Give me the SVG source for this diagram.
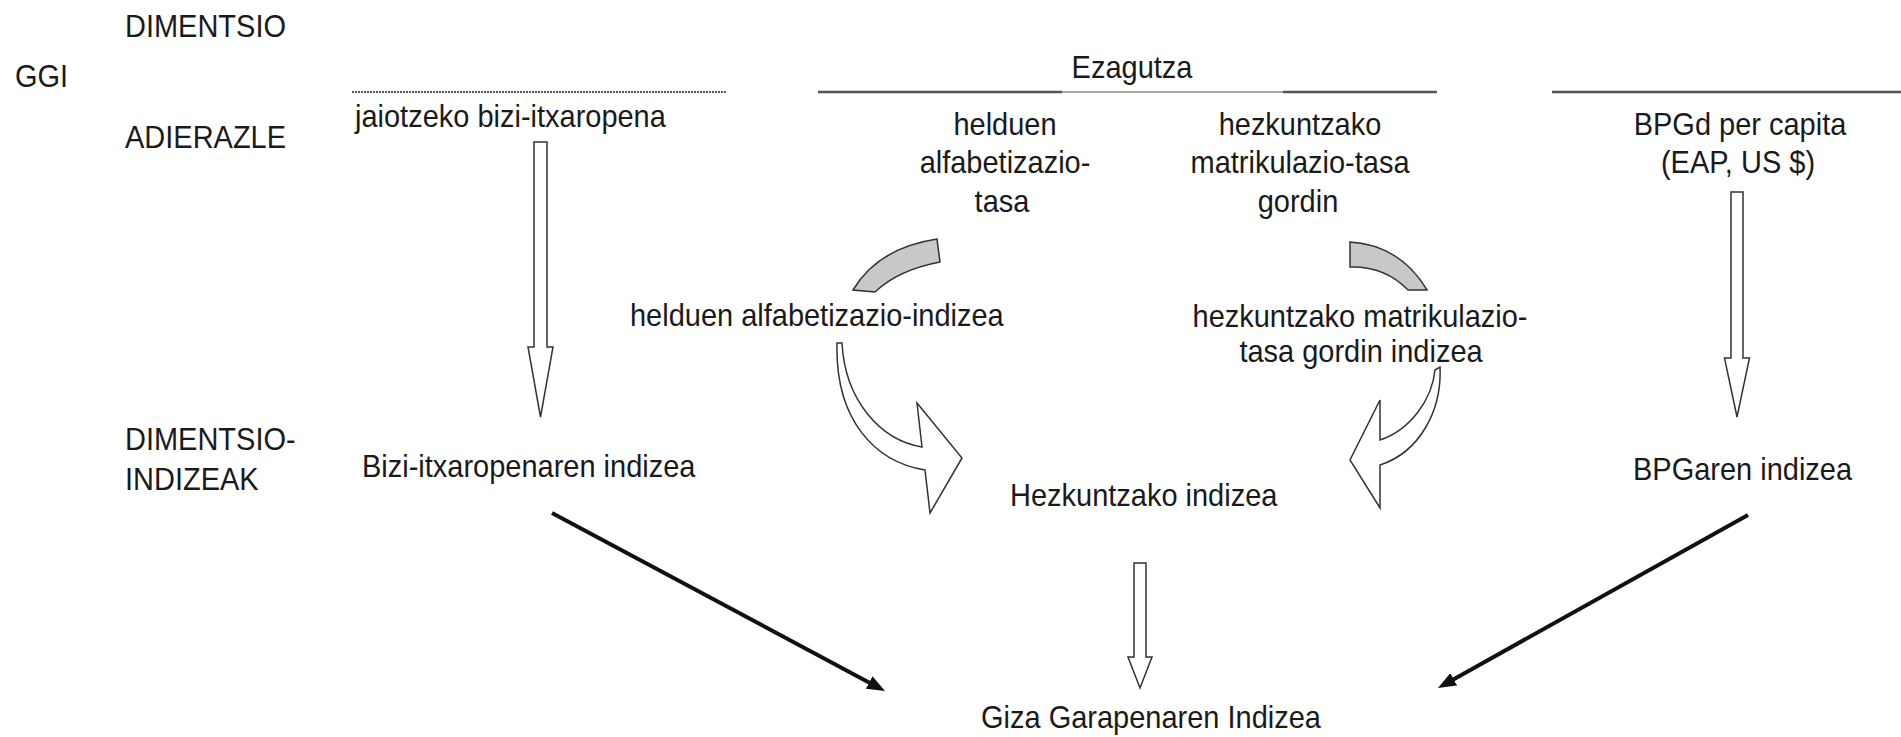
<svg xmlns="http://www.w3.org/2000/svg" width="1901" height="737" viewBox="0 0 1901 737">
<style>
text{font-family:"Liberation Sans",Arial,sans-serif;font-size:32px;fill:#1a1a1a}
.c{text-anchor:middle}
.hollow{fill:#fff;stroke:#333;stroke-width:1.5;stroke-linejoin:miter}
.gray{fill:#c8c8c8;stroke:#333;stroke-width:1.5}
.blk{stroke:#111;stroke-width:4;fill:none}
.rule{stroke:#555;stroke-width:2.5}
</style>
<defs>
<marker id="ah" markerUnits="userSpaceOnUse" markerWidth="18" markerHeight="14" refX="4" refY="7" orient="auto">
<path d="M0,0 L18,7 L0,14 Z" fill="#111"/>
</marker>
</defs>
<rect width="1901" height="737" fill="#fff"/>
<g id="rules">
<line x1="352" y1="92" x2="727" y2="92" stroke="#555" stroke-width="2" stroke-dasharray="2 1"/>
<line class="rule" x1="818" y1="92" x2="1062" y2="92"/>
<line x1="1062" y1="92" x2="1283" y2="92" stroke="#888" stroke-width="1.5"/>
<line class="rule" x1="1283" y1="92" x2="1437" y2="92"/>
<line class="rule" x1="1552" y1="92" x2="1901" y2="92"/>
</g>
<g id="row-labels">
<text transform="translate(125 37) scale(0.906 1)">DIMENTSIO</text>
<text transform="translate(15 87) scale(0.906 1)">GGI</text>
<text transform="translate(125 148) scale(0.906 1)">ADIERAZLE</text>
<text transform="translate(125 450) scale(0.906 1)">DIMENTSIO-</text>
<text transform="translate(125 490) scale(0.906 1)">INDIZEAK</text>
</g>
<g id="ezagutza"><text class="c" transform="translate(1132 78) scale(0.906 1)">Ezagutza</text></g>
<g id="jaiotzeko"><text transform="translate(355 127) scale(0.906 1)">jaiotzeko bizi-itxaropena</text></g>
<g id="helduen-tasa">
<text class="c" transform="translate(1005 135) scale(0.906 1)">helduen</text>
<text class="c" transform="translate(1005 173) scale(0.906 1)">alfabetizazio-</text>
<text class="c" transform="translate(1002 212) scale(0.906 1)">tasa</text>
</g>
<g id="hezkuntzako-tasa">
<text class="c" transform="translate(1300 135) scale(0.906 1)">hezkuntzako</text>
<text class="c" transform="translate(1300 173) scale(0.906 1)">matrikulazio-tasa</text>
<text class="c" transform="translate(1298 212) scale(0.906 1)">gordin</text>
</g>
<g id="bpgd">
<text class="c" transform="translate(1740 135) scale(0.906 1)">BPGd per capita</text>
<text class="c" transform="translate(1738 173) scale(0.906 1)">(EAP, US $)</text>
</g>
<g id="helduen-indizea"><text transform="translate(630 326) scale(0.906 1)">helduen alfabetizazio-indizea</text></g>
<g id="hezkuntzako-indizea-m">
<text class="c" transform="translate(1360 327) scale(0.906 1)">hezkuntzako matrikulazio-</text>
<text class="c" transform="translate(1361 362) scale(0.906 1)">tasa gordin indizea</text>
</g>
<g id="bizi-indizea"><text transform="translate(362 477) scale(0.906 1)">Bizi-itxaropenaren indizea</text></g>
<g id="hezkuntzako-indizea"><text transform="translate(1010 506) scale(0.906 1)">Hezkuntzako indizea</text></g>
<g id="bpgaren-indizea"><text transform="translate(1633 480) scale(0.906 1)">BPGaren indizea</text></g>
<g id="ggi-node"><text class="c" transform="translate(1151 728) scale(0.906 1)">Giza Garapenaren Indizea</text></g>
<g id="connectors">
<path class="hollow" d="M534,142 H547 V347 H553 L540.5,417 L528,347 H534 Z"/>
<path class="hollow" d="M1731,192 H1743 V358 H1749.5 L1737,417 L1724.5,358 H1731 Z"/>
<path class="hollow" d="M1134,563 H1146 V657 H1152 L1140,688 L1128,657 H1134 Z"/>
<path class="gray" d="M853,290 Q878,248 937,239 L940,262 Q898,270 875,292 Z"/>
<path class="gray" d="M1350,242 Q1400,245 1427,290 L1408,290 Q1385,266 1350,267 Z"/>
<path class="hollow" d="M842,343 C845,400 880,440 922,447 L917,403 L962,458 L930,513 L925,470 C875,462 835,420 837,343 Z"/>
<path class="hollow" d="M1440,367 C1442,410 1420,452 1380,465 L1380,508 L1350,460 L1380,400 L1380,440 C1410,430 1432,400 1435,370 Z"/>
<line class="blk" x1="552" y1="513" x2="872.7" y2="684.4" marker-end="url(#ah)"/>
<line class="blk" x1="1748" y1="515" x2="1450.2" y2="681.2" marker-end="url(#ah)"/>
</g>
</svg>
